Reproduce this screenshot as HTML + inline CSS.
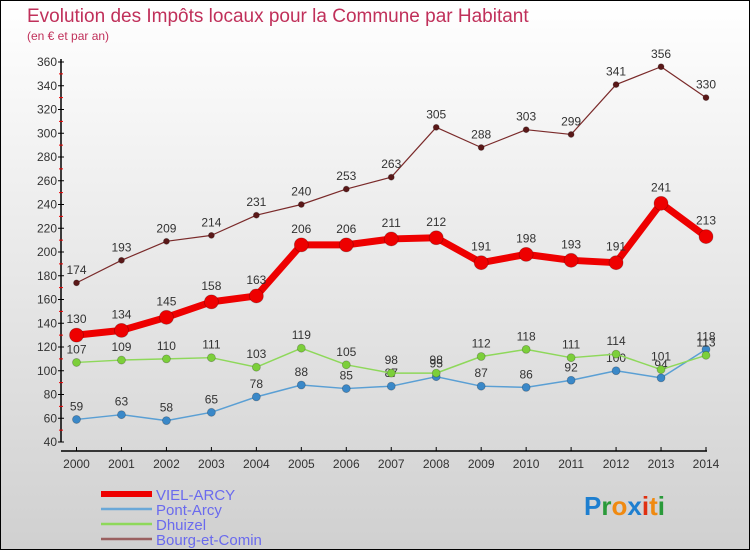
<!DOCTYPE html>
<html><head><meta charset="utf-8"><style>
body{margin:0;}
#wrap{width:748px;height:548px;border:1px solid #000;background:linear-gradient(#fff,#d0d0d0);position:relative;overflow:hidden;font-family:"Liberation Sans",sans-serif;}
svg{position:absolute;left:0;top:0;}
</style></head><body>
<div id="wrap">
<svg id="c" width="750" height="550"></svg>
</div>
<script>
const years=[2000,2001,2002,2003,2004,2005,2006,2007,2008,2009,2010,2011,2012,2013,2014];
const yTicks=[40,60,80,100,120,140,160,180,200,220,240,260,280,300,320,340,360];
const vielArcy=[130,134,145,158,163,206,206,211,212,191,198,193,191,241,213];
const pontArcy=[59,63,58,65,78,88,85,87,95,87,86,92,100,94,118];
const dhuizel=[107,109,110,111,103,119,105,98,98,112,118,111,114,101,113];
const bourg=[174,193,209,214,231,240,253,263,305,288,303,299,341,356,330];
const seriesNames=["VIEL-ARCY","Pont-Arcy","Dhuizel","Bourg-et-Comin"];

const svg=document.getElementById('c');
const NS='http://www.w3.org/2000/svg';
function X(i){return 75.5+(705-75.5)*i/(years.length-1);}
function Y(v){return 441-(v-40)*(441-61)/320;}
function mk(t,a,p){const e=document.createElementNS(NS,t);for(const k in a)e.setAttribute(k,a[k]);(p||svg).appendChild(e);return e;}
function tx(x,y,s,size,fill,anchor){const e=mk('text',{x:x,y:y,'font-size':size,fill:fill,'text-anchor':anchor||'start'});e.textContent=s;return e;}

let t=tx(26,21,'Evolution des Impôts locaux pour la Commune par Habitant',19,'#c0305a');


t=tx(26,39,'(en € et par an)',12,'#c0305a');



// axes
let ax=mk('line',{x1:60,y1:58,x2:60,y2:441,stroke:'#000','stroke-width':1.5});


ax=mk('line',{x1:60,y1:450,x2:706,y2:450,stroke:'#000','stroke-width':1.5});


yTicks.forEach((v,i)=>{
  mk('line',{x1:57,y1:Y(v),x2:63,y2:Y(v),stroke:'#000'});
  if(i<yTicks.length-1)mk('line',{x1:58,y1:Y(v+10),x2:62,y2:Y(v+10),stroke:'#e00'});
  const l=tx(56,Y(v)+4,String(v),12,'#333','end');
  
  
});
years.forEach((yr,i)=>{
  mk('line',{x1:X(i),y1:446,x2:X(i),y2:450,stroke:'#000'});
  const l=tx(X(i),467,String(yr),12,'#333','middle');
  
  
});

function series(vals,color,lw,r,name,dot,lblDy){
  const g=mk('g',{});
  
  
  mk('polyline',{points:vals.map((v,i)=>X(i)+','+Y(v)).join(' '),fill:'none',stroke:color,'stroke-width':lw,'stroke-linejoin':'round'},g);
  vals.forEach((v,i)=>{
    const c=mk('circle',{cx:X(i),cy:Y(v),r:r,fill:dot,stroke:'rgba(0,0,0,0.25)','stroke-width':0.8},g);
    
    
    const l=tx(X(i),Y(v)-lblDy,String(v),12,'#333','middle');
    
    
  });
}
series(pontArcy,'#5a9fd4',1.5,4,'pont-arcy','#3a88c8',9);
series(dhuizel,'#8ed85a',1.5,4,'dhuizel','#7ccf3a',9);
series(bourg,'#7a2a2a',1.2,3,'bourg-et-comin','#5a1818',9);
series(vielArcy,'#ee0000',7,7,'viel-arcy','#ee0000',12);

// legend
const cols=['#ee0000','#6aa8d8','#8ed85a','#9a6060'];
const ws=[6,2.5,2.5,2.5];
seriesNames.forEach((n,i)=>{
  const y=493+i*15;
  const g=mk('g',{});
  
  
  mk('line',{x1:100,y1:y,x2:151,y2:y,stroke:cols[i],'stroke-width':ws[i]},g);
  tx(155,y+6,n,15,'#6a6aee',g===null?'start':'start');
});

// logo
const lg=mk('text',{x:583,y:514,'font-size':26,'font-weight':'bold'});


[['P','#1e7fd0'],['r','#2a9a3a'],['o','#f08a10'],['x','#1e7fd0'],['i','#e03010'],['t','#f08a10'],['i','#2a9a3a']].forEach(([c,f])=>{const s=mk('tspan',{fill:f},lg);s.textContent=c;});
</script>
</body></html>
